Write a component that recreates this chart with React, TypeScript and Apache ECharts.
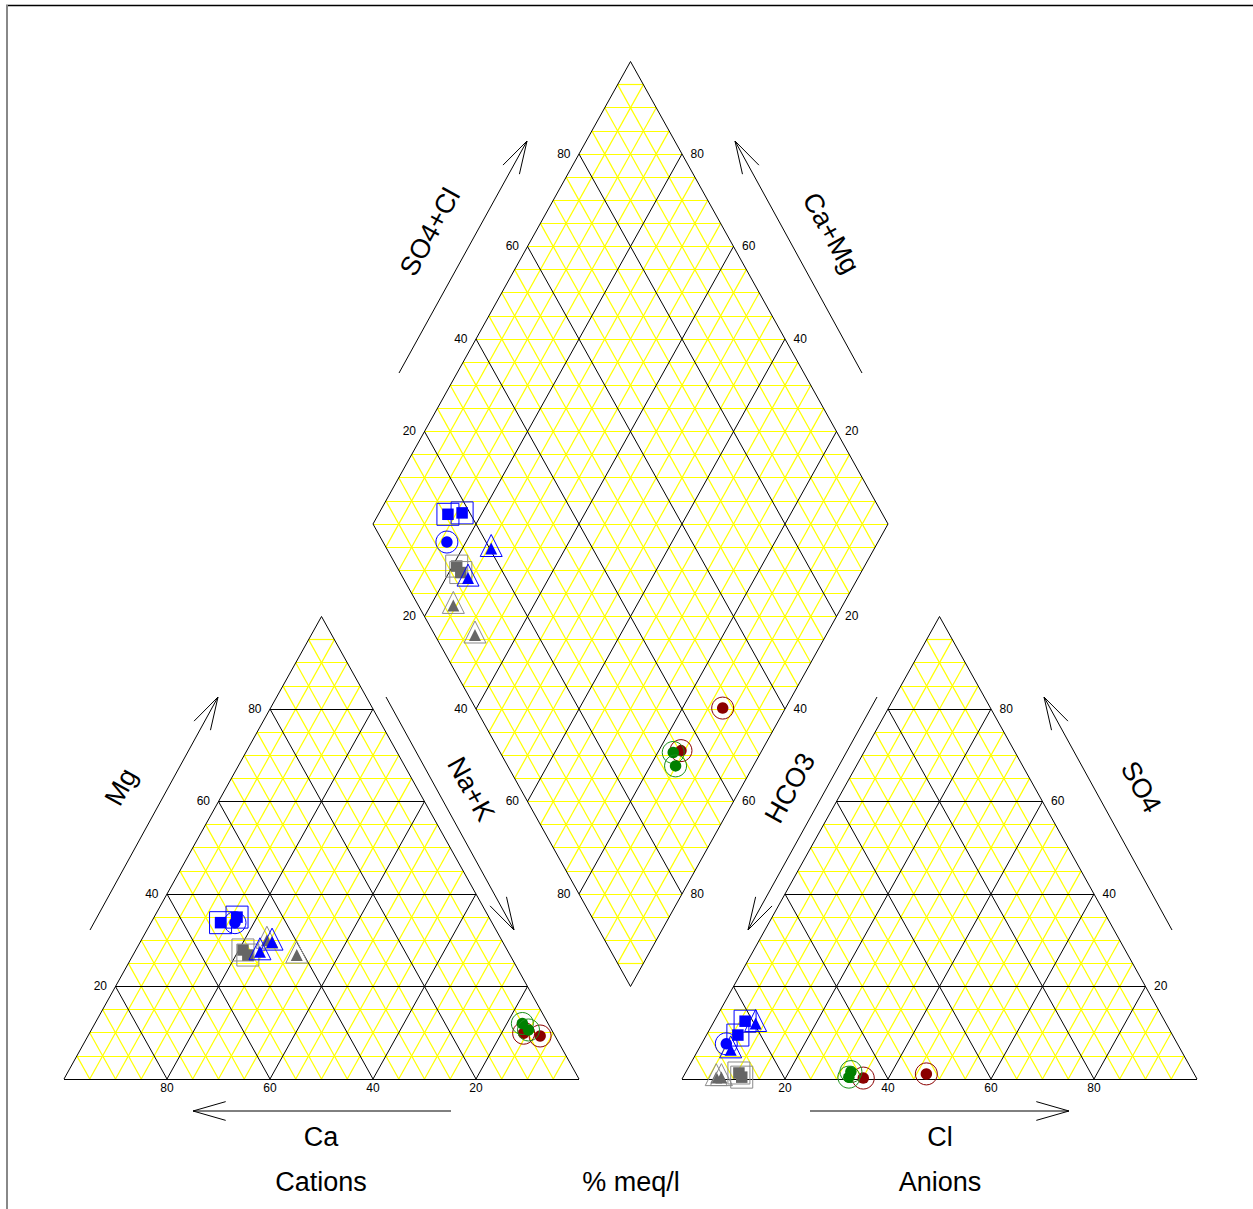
import React, { useEffect, useRef } from "react";
import * as echarts from "echarts";

// ---------- page / geometry (layout, not data) ----------
const W = 1253;
const H = 1209;
const SX = 5.15; // px per unit (x)
const SY = 5.3405; // px per unit (y)
const OX = 64; // px of u = 0
const OY = 1079; // px of v = 0
const XMIN = -OX / SX;
const XMAX = (W - OX) / SX;
const YMIN = -(H - OY) / SY;
const YMAX = OY / SY;
const R3 = Math.sqrt(3) / 2;
const GAP = 20;
const DBV = GAP * R3; // diamond bottom v
const FONT = "'Liberation Sans', Arial, Helvetica, sans-serif";

// ---------- data ----------
const sampleShape = [
  "circle", "circle", "circle", "circle",
  "triangle", "triangle", "rect", "rect",
  "triangle", "triangle", "rect", "rect", "circle",
];
const sampleColor = [
  "#8B0000", "#8B0000", "#008000", "#008000",
  "#666666", "#666666", "#666666", "#666666",
  "#0000FF", "#0000FF", "#0000FF", "#0000FF", "#0000FF",
];
const outlineColor = [
  "#8B0000", "#8B0000", "#1a8f1a", "#1a8f1a",
  "#8a8a8a", "#8a8a8a", "#8a8a8a", "#8a8a8a",
  "#0000FF", "#0000FF", "#0000FF", "#0000FF", "#0000FF",
];
// cations, % meq/l
const cationCa = [2.9, 5.8, 5.0, 4.5, 45.6, 41.4, 51.3, 50.9, 44.8, 48.2, 52.7, 48.9, 49.9];
const cationMg = [9.3, 9.9, 12.0, 10.6, 30.0, 26.8, 27.9, 26.8, 29.6, 27.5, 33.8, 35.0, 33.8];
const cationNaK = [87.8, 84.3, 83.0, 84.9, 24.4, 31.8, 20.8, 22.3, 25.6, 24.3, 13.5, 16.1, 16.3];
// anions, % meq/l
const anionHCO3 = [52.0, 64.7, 66.4, 67.4, 93.2, 92.2, 88.3, 88.2, 79.7, 87.4, 84.4, 81.5, 87.6];
const anionSO4 = [1.1, 0.2, 1.6, 0.4, 0.3, 0.3, 1.3, 0.4, 12.0, 6.3, 9.5, 12.5, 7.6];
const anionCl = [46.9, 35.1, 32.0, 32.2, 6.5, 7.5, 10.4, 11.4, 8.3, 6.3, 6.1, 6.0, 4.8];

const tickValues = [20, 40, 60, 80];
const gridStep = 5;
const majorStep = 20;

// ---------- projections ----------
const cationPt = (ca: number, mg: number, na: number) => {
  const s = ca + mg + na;
  const m = (mg / s) * 100;
  const n = (na / s) * 100;
  return [n + 0.5 * m, R3 * m];
};
const anionPt = (hco3: number, so4: number, cl: number) => {
  const s = hco3 + so4 + cl;
  const so = (so4 / s) * 100;
  const c = (cl / s) * 100;
  return [100 + GAP + c + 0.5 * so, R3 * so];
};
const diamondPt = (caMg: number, so4Cl: number) => [
  110 + 0.5 * (so4Cl - caMg),
  DBV + R3 * (so4Cl + caMg),
];

const toPx = (u: number, v: number) => [OX + u * SX, OY - v * SY];
const fromPx = (x: number, y: number): [number, number] => [(x - OX) / SX, (OY - y) / SY];

// ---------- grid lines ----------
function triangleLines(ox: number) {
  const minor: number[][][] = [];
  const major: number[][][] = [];
  for (let p = gridStep; p < 100; p += gridStep) {
    const segs = [
      [[ox + 0.5 * p, R3 * p], [ox + 100 - 0.5 * p, R3 * p]],
      [[ox + p, 0], [ox + p + 0.5 * (100 - p), R3 * (100 - p)]],
      [[ox + 100 - p, 0], [ox + 0.5 * (100 - p), R3 * (100 - p)]],
    ];
    (p % majorStep === 0 ? major : minor).push(...segs);
  }
  const edges = [
    [[ox, 0], [ox + 100, 0]],
    [[ox + 100, 0], [ox + 50, R3 * 100]],
    [[ox + 50, R3 * 100], [ox, 0]],
  ];
  return { minor, major, edges };
}
function diamondLines() {
  const minor: number[][][] = [];
  const major: number[][][] = [];
  for (let p = gridStep; p < 100; p += gridStep) {
    const segs = [
      [diamondPt(0, p), diamondPt(100, p)],
      [diamondPt(p, 0), diamondPt(p, 100)],
    ];
    (p % majorStep === 0 ? major : minor).push(...segs);
  }
  for (let t = gridStep; t < 200; t += gridStep) {
    const w = Math.min(t, 200 - t);
    minor.push([[110 - 0.5 * w, DBV + R3 * t], [110 + 0.5 * w, DBV + R3 * t]]);
  }
  const edges = [
    [diamondPt(0, 0), diamondPt(100, 0)],
    [diamondPt(100, 0), diamondPt(100, 100)],
    [diamondPt(100, 100), diamondPt(0, 100)],
    [diamondPt(0, 100), diamondPt(0, 0)],
  ];
  return { minor, major, edges };
}

function linesSeries(segs: number[][][], color: string, width: number, z: number) {
  return {
    type: "lines",
    coordinateSystem: "cartesian2d",
    polyline: false,
    silent: true,
    z,
    lineStyle: { color, width, opacity: 1 },
    data: segs.map((s) => ({ coords: s })),
  };
}

function tickSeries(items: { value: number[]; name: string }[], position: string, distance: number) {
  return {
    type: "scatter",
    silent: true,
    symbol: "circle",
    symbolSize: 1,
    z: 4,
    itemStyle: { color: "rgba(0,0,0,0)", opacity: 1 },
    label: {
      show: true,
      position,
      distance,
      formatter: "{b}",
      fontSize: 12,
      fontFamily: FONT,
      color: "#000",
    },
    data: items,
  };
}

function arrow(tail: number[], tip: number[], color = "#000") {
  const [x1, y1] = toPx(tail[0], tail[1]);
  const [x2, y2] = toPx(tip[0], tip[1]);
  const dx = x1 - x2;
  const dy = y1 - y2;
  const len = Math.hypot(dx, dy);
  const bx = dx / len;
  const by = dy / len;
  const L = 34;
  const a = (16 * Math.PI) / 180;
  const rot = (s: number) => [
    x2 + L * (bx * Math.cos(s) - by * Math.sin(s)),
    y2 + L * (bx * Math.sin(s) + by * Math.cos(s)),
  ];
  return [
    { type: "line", silent: true, shape: { x1, y1, x2, y2 }, style: { stroke: color, lineWidth: 1 } },
    { type: "polyline", silent: true, shape: { points: [rot(a), [x2, y2], rot(-a)] }, style: { stroke: color, lineWidth: 1, fill: null } },
  ];
}

function label(text: string, pos: [number, number], rotDeg: number, size = 27) {
  const [x, y] = toPx(pos[0], pos[1]);
  return {
    type: "text",
    silent: true,
    x,
    y,
    rotation: (rotDeg * Math.PI) / 180,
    style: {
      text,
      fill: "#000",
      fontSize: size,
      fontFamily: FONT,
      align: "center",
      verticalAlign: "middle",
      textAlign: "center",
      textVerticalAlign: "middle",
    },
  };
}

export default function App() {
  const ref = useRef<HTMLDivElement>(null);
  useEffect(() => {
    if (!ref.current) return;
    const chart = echarts.init(ref.current, undefined, { renderer: "svg", width: W, height: H });

    const lt = triangleLines(0);
    const rt = triangleLines(100 + GAP);
    const dm = diamondLines();

    const series: any[] = [
      linesSeries([...lt.minor, ...rt.minor, ...dm.minor], "#FFFF00", 1.2, 1),
      linesSeries([...lt.major, ...rt.major, ...dm.major], "#000000", 1, 2),
      linesSeries([...lt.edges, ...rt.edges, ...dm.edges], "#000000", 1, 2),
    ];

    // tick labels
    series.push(tickSeries(tickValues.map((p) => ({ value: [100 - p, 0], name: String(p) })), "bottom", 2));
    series.push(tickSeries(tickValues.map((p) => ({ value: [0.5 * p, R3 * p], name: String(p) })), "left", 8));
    series.push(tickSeries(tickValues.map((p) => ({ value: [100 + GAP + p, 0], name: String(p) })), "bottom", 2));
    series.push(tickSeries(tickValues.map((p) => ({ value: [200 + GAP - 0.5 * p, R3 * p], name: String(p) })), "right", 8));
    series.push(
      tickSeries(
        [
          ...tickValues.map((p) => ({ value: diamondPt(100, p), name: String(p) })),
          ...tickValues.map((p) => ({ value: diamondPt(100 - p, 0), name: String(p) })),
        ],
        "left",
        8
      )
    );
    series.push(
      tickSeries(
        [
          ...tickValues.map((p) => ({ value: diamondPt(p, 100), name: String(p) })),
          ...tickValues.map((p) => ({ value: diamondPt(0, 100 - p), name: String(p) })),
        ],
        "right",
        8
      )
    );

    // samples
    for (let i = 0; i < sampleShape.length; i++) {
      const caMg = ((cationCa[i] + cationMg[i]) / (cationCa[i] + cationMg[i] + cationNaK[i])) * 100;
      const so4Cl = ((anionSO4[i] + anionCl[i]) / (anionHCO3[i] + anionSO4[i] + anionCl[i])) * 100;
      const pts = [
        cationPt(cationCa[i], cationMg[i], cationNaK[i]),
        anionPt(anionHCO3[i], anionSO4[i], anionCl[i]),
        diamondPt(caMg, so4Cl),
      ];
      const tri = sampleShape[i] === "triangle";
      series.push({
        type: "scatter",
        silent: true,
        z: 5,
        symbol: sampleShape[i],
        symbolSize: 22,
        symbolOffset: tri ? [0, -3] : [0, 0],
        itemStyle: { color: "rgba(0,0,0,0)", borderColor: outlineColor[i], borderWidth: 1, opacity: 1 },
        data: pts,
      });
      series.push({
        type: "scatter",
        silent: true,
        z: 5,
        symbol: sampleShape[i],
        symbolSize: tri ? 12 : 11.5,
        itemStyle: { color: sampleColor[i], opacity: 1 },
        data: pts,
      });
    }

    const graphic: any[] = [
      { type: "line", silent: true, shape: { x1: 6, y1: 5.5, x2: 1253, y2: 5.5 }, style: { stroke: "#000", lineWidth: 1.5 } },
      { type: "line", silent: true, shape: { x1: 7, y1: 5, x2: 7, y2: 1209 }, style: { stroke: "#888", lineWidth: 2 } },
      ...arrow(fromPx(90, 930), fromPx(218, 697)),
      ...arrow(fromPx(386, 697), fromPx(514, 930)),
      ...arrow(fromPx(451, 1111), fromPx(193, 1111)),
      ...arrow(fromPx(399, 373), fromPx(527, 141)),
      ...arrow(fromPx(862, 373), fromPx(735, 141)),
      ...arrow(fromPx(877, 697), fromPx(748, 930)),
      ...arrow(fromPx(1172, 930), fromPx(1044, 697)),
      ...arrow(fromPx(810, 1111), fromPx(1069, 1111)),
      label("Mg", fromPx(121, 787), 61),
      label("Na+K", fromPx(471, 789), -61),
      label("Ca", fromPx(321, 1137), 0),
      label("SO4+Cl", fromPx(430, 232), 61),
      label("Ca+Mg", fromPx(831, 233), -61),
      label("HCO3", fromPx(790, 788), 61),
      label("SO4", fromPx(1141, 787), -61),
      label("Cl", fromPx(940, 1137), 0),
      label("Cations", fromPx(321, 1182), 0),
      label("% meq/l", fromPx(631, 1182), 0),
      label("Anions", fromPx(940, 1182), 0),
    ];

    chart.setOption({
      animation: false,
      backgroundColor: "#ffffff",
      grid: { left: 0, right: 0, top: 0, bottom: 0, containLabel: false },
      xAxis: { type: "value", min: XMIN, max: XMAX, show: false },
      yAxis: { type: "value", min: YMIN, max: YMAX, show: false },
      series,
      graphic,
    });
    return () => chart.dispose();
  }, []);

  return (
    <div
      ref={ref}
      style={{ position: "fixed", left: 0, top: 0, width: W, height: H, background: "#fff" }}
    />
  );
}
